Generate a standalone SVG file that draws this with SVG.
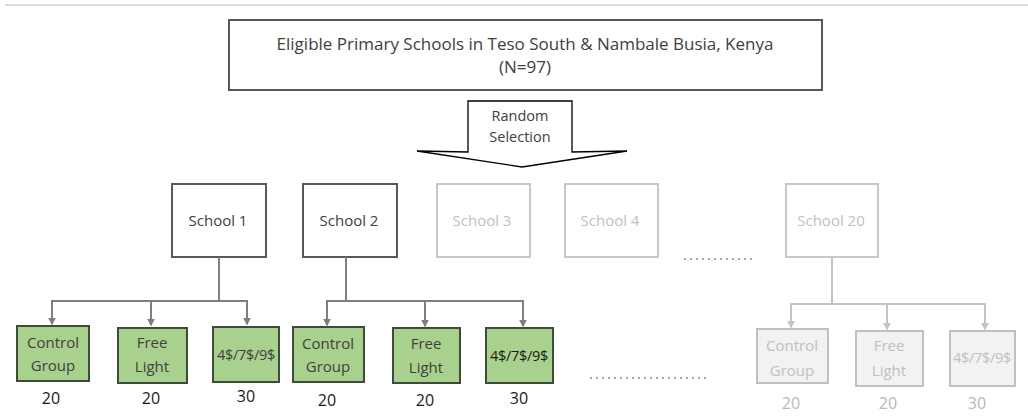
<svg xmlns="http://www.w3.org/2000/svg" width="1028" height="417" viewBox="0 0 1028 417">
<defs>
<style>
text{font-family:"Open Sans","Liberation Sans",sans-serif;text-anchor:middle}
.title{font-size:17px;fill:#404040}
.lbl{font-size:15px;fill:#404040}
.lbl-l{font-size:15px;fill:#c0c0c0}
.small{font-size:14.5px;fill:#404040}
.price{font-size:14.5px;letter-spacing:-0.3px}
.num{font-size:16px;fill:#1a1a1a}
.num-l{font-size:16px;fill:#b8b8b8}
.box{fill:#fff;stroke:#595959;stroke-width:2}
.box-l{fill:#fff;stroke:#c8c8c8;stroke-width:2}
.grn{fill:#a9d18e;stroke:#3f4a38;stroke-width:2}
.grn-l{fill:#f2f2f2;stroke:#c0c0c0;stroke-width:2}
.con{fill:none;stroke:#7f7f7f;stroke-width:2}
.con-l{fill:none;stroke:#c4c4c4;stroke-width:2}
.dots{fill:none;stroke:#a6a6a6;stroke-width:2;stroke-dasharray:2 4}
</style>
<marker id="ah" viewBox="0 0 10 10" refX="8" refY="5" markerWidth="4" markerHeight="4" orient="auto" markerUnits="strokeWidth"><path d="M0,0L10,5L0,10z" fill="#7f7f7f"/></marker>
<marker id="ahl" viewBox="0 0 10 10" refX="8" refY="5" markerWidth="4" markerHeight="4" orient="auto" markerUnits="strokeWidth"><path d="M0,0L10,5L0,10z" fill="#c4c4c4"/></marker>
</defs>
<line x1="5" y1="5" x2="1028" y2="5" stroke="#dcdcdc" stroke-width="2"/>

<g id="top">
<rect class="box" x="229" y="20" width="593" height="70"/>
<text class="title" x="525" y="50">Eligible Primary Schools in Teso South &amp; Nambale Busia, Kenya</text>
<text class="title" x="525" y="73">(N=97)</text>
</g>

<g id="random-selection">
<path d="M468,152 L468,101 L572,101 L572,152 L627,151 L522,167 L417,151 Z" fill="#fff" stroke="#000" stroke-width="1.3"/>
<text class="small" x="520" y="121">Random</text>
<text class="small" x="520" y="142">Selection</text>
</g>

<g id="school1"><rect class="box" x="172" y="184" width="94" height="73"/><text class="lbl" x="218" y="226">School 1</text></g>
<g id="school2"><rect class="box" x="303" y="184" width="94" height="73"/><text class="lbl" x="349" y="226">School 2</text></g>
<g id="school3"><rect class="box-l" x="437" y="184" width="93" height="73"/><text class="lbl-l" x="482" y="226">School 3</text></g>
<g id="school4"><rect class="box-l" x="565" y="184" width="93" height="73"/><text class="lbl-l" x="610" y="226">School 4</text></g>
<g id="school20"><rect class="box-l" x="786" y="184" width="92" height="73"/><text class="lbl-l" x="831" y="226">School 20</text></g>

<g id="s1-control"><rect class="grn" x="17" y="326" width="72" height="55"/><text class="lbl" x="53" y="348">Control</text><text class="lbl" x="53" y="371">Group</text><text class="num" x="51" y="404">20</text></g>
<g id="s1-free"><rect class="grn" x="118" y="328" width="69" height="55"/><text class="lbl" x="152" y="348">Free</text><text class="lbl" x="152" y="372">Light</text><text class="num" x="151" y="404">20</text></g>
<g id="s1-price"><rect class="grn" x="213" y="327" width="66" height="55"/><text class="lbl price" x="246" y="360">4$/7$/9$</text><text class="num" x="246" y="402">30</text></g>

<g id="s2-control"><rect class="grn" x="293" y="327" width="71" height="55"/><text class="lbl" x="328" y="349">Control</text><text class="lbl" x="328" y="372">Group</text><text class="num" x="327" y="406">20</text></g>
<g id="s2-free"><rect class="grn" x="393" y="328" width="67" height="55"/><text class="lbl" x="426" y="349">Free</text><text class="lbl" x="426" y="373">Light</text><text class="num" x="425" y="406">20</text></g>
<g id="s2-price"><rect class="grn" x="486" y="328" width="67" height="55"/><text class="lbl price" x="519" y="361" style="fill:#1a1a1a">4$/7$/9$</text><text class="num" x="519" y="404">30</text></g>

<g id="s20-control"><rect class="grn-l" x="757" y="329" width="71" height="54"/><text class="lbl-l" x="792" y="351">Control</text><text class="lbl-l" x="792" y="376">Group</text><text class="num-l" x="791" y="409">20</text></g>
<g id="s20-free"><rect class="grn-l" x="856" y="331" width="67" height="55"/><text class="lbl-l" x="889" y="351">Free</text><text class="lbl-l" x="889" y="376">Light</text><text class="num-l" x="888" y="409">20</text></g>
<g id="s20-price"><rect class="grn-l" x="950" y="331" width="65" height="55"/><text class="lbl-l price" x="982" y="363">4$/7$/9$</text><text class="num-l" x="977" y="409">30</text></g>

<g id="connectors">
<path class="con" d="M219,257 V301 M52,301 H247"/>
<line class="con" x1="52" y1="300" x2="52" y2="324" marker-end="url(#ah)"/>
<line class="con" x1="151" y1="301" x2="151" y2="325" marker-end="url(#ah)"/>
<line class="con" x1="247" y1="300" x2="247" y2="324" marker-end="url(#ah)"/>
<path class="con" d="M346,257 V301 M327,301 H523"/>
<line class="con" x1="327" y1="300" x2="327" y2="325" marker-end="url(#ah)"/>
<line class="con" x1="425" y1="301" x2="425" y2="326" marker-end="url(#ah)"/>
<line class="con" x1="523" y1="300" x2="523" y2="326" marker-end="url(#ah)"/>
<path class="con-l" d="M832,257 V304 M791,304 H985"/>
<line class="con-l" x1="791" y1="303" x2="791" y2="327" marker-end="url(#ahl)"/>
<line class="con-l" x1="887" y1="304" x2="887" y2="329" marker-end="url(#ahl)"/>
<line class="con-l" x1="985" y1="303" x2="985" y2="329" marker-end="url(#ahl)"/>
<line class="dots" x1="684" y1="259" x2="752" y2="259"/>
<line class="dots" x1="590" y1="378" x2="707" y2="378"/>
</g>
</svg>
